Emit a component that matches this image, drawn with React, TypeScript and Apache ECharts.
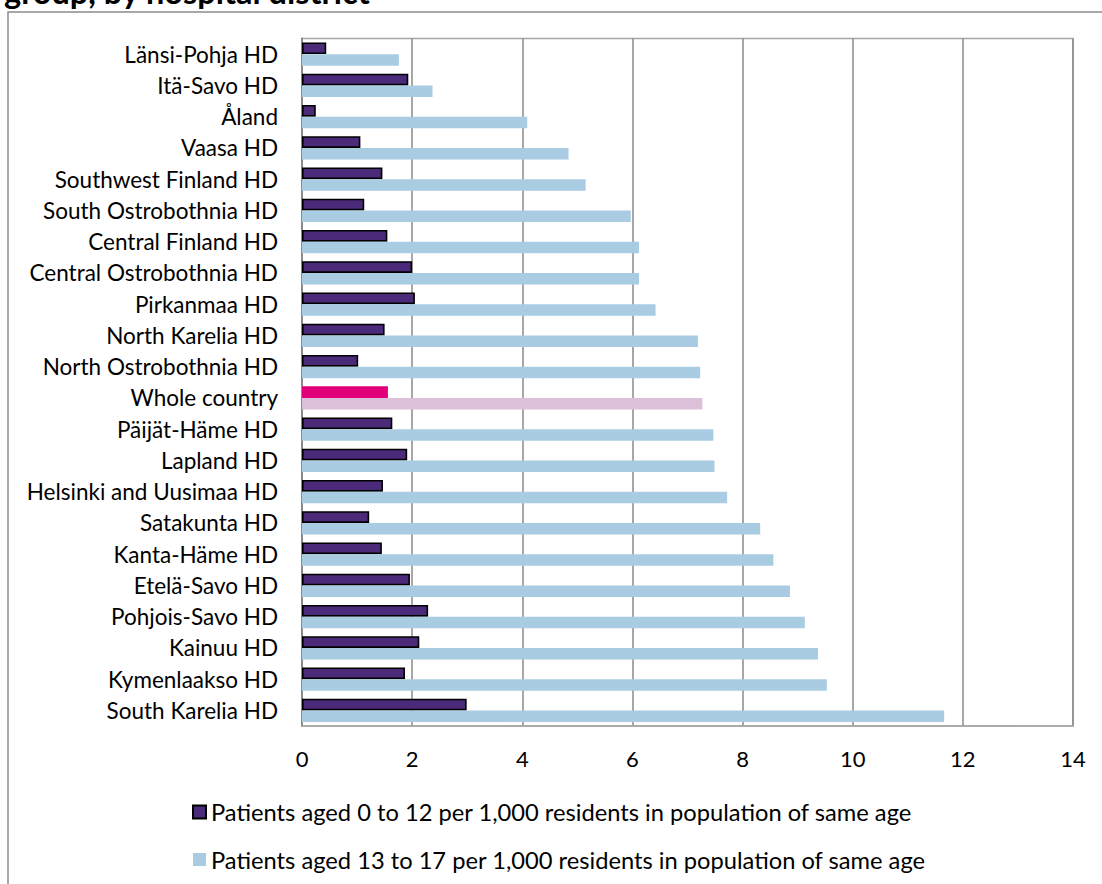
import React, { useEffect, useRef } from "react";
import * as echarts from "echarts";

const categories = [
  "Länsi-Pohja HD",
  "Itä-Savo HD",
  "Åland",
  "Vaasa HD",
  "Southwest Finland HD",
  "South Ostrobothnia HD",
  "Central Finland HD",
  "Central Ostrobothnia HD",
  "Pirkanmaa HD",
  "North Karelia HD",
  "North Ostrobothnia HD",
  "Whole country",
  "Päijät-Häme HD",
  "Lapland HD",
  "Helsinki and Uusimaa HD",
  "Satakunta HD",
  "Kanta-Häme HD",
  "Etelä-Savo HD",
  "Pohjois-Savo HD",
  "Kainuu HD",
  "Kymenlaakso HD",
  "South Karelia HD",
];

const children0to12 = [
  0.44, 1.93, 0.25, 1.06, 1.46, 1.13, 1.55, 2.0, 2.05, 1.5, 1.02, 1.56, 1.64,
  1.91, 1.47, 1.22, 1.45, 1.96, 2.29, 2.13, 1.87, 2.99,
];

const youth13to17 = [
  1.76, 2.37, 4.09, 4.84, 5.15, 5.97, 6.12, 6.12, 6.42, 7.19, 7.23, 7.27, 7.47,
  7.49, 7.72, 8.32, 8.56, 8.86, 9.13, 9.37, 9.53, 11.66,
];

const seriesNames = [
  "Patients aged 0 to 12 per 1,000 residents in population of same age",
  "Patients aged 13 to 17 per 1,000 residents in population of same age",
];

const titleText = "group, by hospital district";
const highlightCategory = "Whole country";
const FONT = "Lato, 'DejaVu Sans', sans-serif";

export default function App() {
  const ref = useRef<HTMLDivElement>(null);

  useEffect(() => {
    if (!ref.current) return;
    const chart = echarts.init(ref.current, undefined, { renderer: "svg" });

    const darkData = children0to12.map((v, i) =>
      categories[i] === highlightCategory
        ? { value: v, itemStyle: { color: "#E2007A", borderWidth: 0 } }
        : v
    );
    const lightData = youth13to17.map((v, i) =>
      categories[i] === highlightCategory
        ? { value: v, itemStyle: { color: "#DCC0D9" } }
        : v
    );

    chart.setOption({
      animation: false,
      textStyle: { fontFamily: FONT },
      grid: {
        left: 302,
        top: 38.5,
        right: 29,
        bottom: 158,
        show: true,
        borderColor: "#A6A6A6",
        borderWidth: 1.5,
        containLabel: false,
      },
      graphic: [
        {
          type: "rect",
          shape: { x: 8, y: 12, width: 1200, height: 1000 },
          style: { fill: "none", stroke: "#8C8C8C", lineWidth: 1.5 },
          silent: true,
          z: -10,
        },
        {
          type: "text",
          x: 4,
          y: 8,
          style: {
            text: titleText,
            font: "bold 32.5px " + FONT,
            fill: "#000",
            verticalAlign: "bottom",
          },
          silent: true,
        },
      ],
      legend: {
        orient: "vertical",
        left: 187,
        top: 795,
        itemWidth: 13,
        itemHeight: 13,
        itemGap: 23.5,
        icon: "rect",
        textStyle: { fontSize: 23.7, color: "#000", fontFamily: FONT },
        data: seriesNames,
      },
      xAxis: {
        type: "value",
        min: 0,
        max: 14,
        interval: 2,
        axisLine: { show: true, lineStyle: { color: "#A6A6A6", width: 1.5 } },
        axisTick: { show: false },
        axisLabel: { fontSize: 22, color: "#000", margin: 21, fontFamily: FONT },
        splitLine: { show: true, lineStyle: { color: "#8A8A8A", width: 1.5 } },
      },
      yAxis: {
        type: "category",
        inverse: true,
        data: categories,
        axisLine: { show: true, lineStyle: { color: "#8A8A8A", width: 2 } },
        axisTick: { show: false },
        axisLabel: {
          fontSize: 22.5,
          color: "#000",
          margin: 24,
          fontFamily: FONT,
          interval: 0,
        },
      },
      series: [
        {
          name: seriesNames[0],
          type: "bar",
          data: darkData,
          barGap: "0%",
          barCategoryGap: "25%",
          itemStyle: { color: "#4B2A7A", borderColor: "#000", borderWidth: 1.6 },
        },
        {
          name: seriesNames[1],
          type: "bar",
          data: lightData,
          barGap: "0%",
          barCategoryGap: "25%",
          itemStyle: { color: "#A9CCE3" },
        },
      ],
    });

    return () => chart.dispose();
  }, []);

  return (
    <div
      ref={ref}
      style={{ position: "fixed", left: 0, top: 0, width: 1102, height: 884, background: "#fff" }}
    />
  );
}
